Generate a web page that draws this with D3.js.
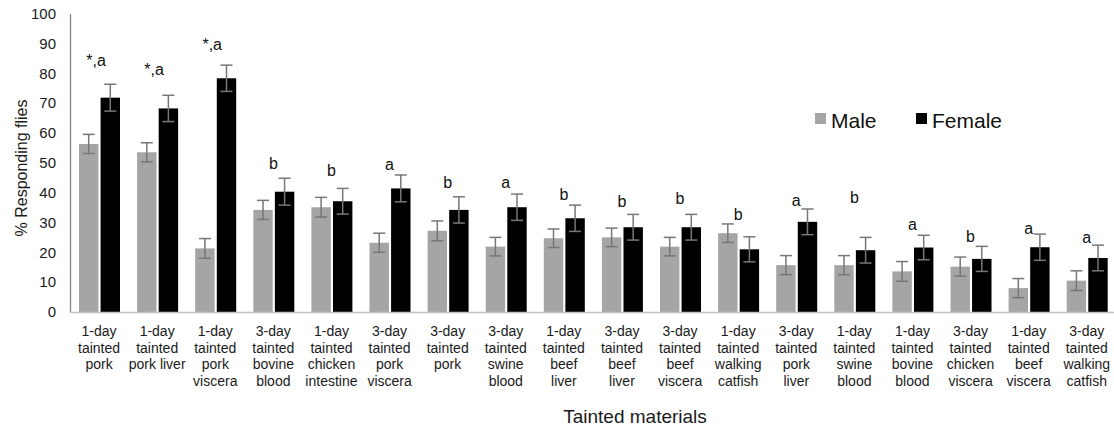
<!DOCTYPE html>
<html>
<head>
<meta charset="utf-8">
<script src="https://cdn.jsdelivr.net/npm/d3@7"></script>
<style>
  body { margin: 0; background: #fff; }
  svg { font-family: "Liberation Sans", Arial, sans-serif; }
</style>
</head>
<body>
<div class="chart"></div>
<script>
// tainted materials (one entry per group, split in lines)
const categories = [
  ["1-day", "tainted", "pork"],
  ["1-day", "tainted", "pork liver"],
  ["1-day", "tainted", "pork", "viscera"],
  ["3-day", "tainted", "bovine", "blood"],
  ["1-day", "tainted", "chicken", "intestine"],
  ["3-day", "tainted", "pork", "viscera"],
  ["3-day", "tainted", "pork"],
  ["3-day", "tainted", "swine", "blood"],
  ["1-day", "tainted", "beef", "liver"],
  ["3-day", "tainted", "beef", "liver"],
  ["3-day", "tainted", "beef", "viscera"],
  ["1-day", "tainted", "walking", "catfish"],
  ["3-day", "tainted", "pork", "liver"],
  ["1-day", "tainted", "swine", "blood"],
  ["1-day", "tainted", "bovine", "blood"],
  ["3-day", "tainted", "chicken", "viscera"],
  ["1-day", "tainted", "beef", "viscera"],
  ["3-day", "tainted", "walking", "catfish"]
];

const series = ["Male", "Female"];

const maleValues = [56.3, 53.5, 21.3, 34.2, 35.1, 23.2, 27.2, 21.9, 24.7, 25.0, 21.9, 26.4, 15.7, 15.7, 13.6, 15.2, 8.0, 10.5];
const femaleValues = [71.8, 68.2, 78.3, 40.3, 37.1, 41.4, 34.2, 35.1, 31.4, 28.4, 28.4, 21.0, 30.2, 20.7, 21.6, 17.8, 21.7, 18.1];

const maleErrors = [3.2, 3.2, 3.3, 3.2, 3.3, 3.2, 3.3, 3.1, 3.1, 3.1, 3.1, 3.1, 3.2, 3.2, 3.3, 3.2, 3.2, 3.3];
const femaleErrors = [4.5, 4.4, 4.4, 4.5, 4.3, 4.5, 4.4, 4.4, 4.4, 4.3, 4.3, 4.2, 4.3, 4.3, 4.1, 4.2, 4.4, 4.3];

// significance letters and the height (in %) of their baseline
const sigLabels = ["*,a", "*,a", "*,a", "b", "b", "a", "b", "a", "b", "b", "b", "b", "a", "b", "a", "b", "a", "a"];
const sigHeights = [82.4, 79.4, 87.8, 47.9, 45.6, 47.6, 41.5, 41.5, 37.5, 35.3, 36.2, 30.8, 35.5, 36.6, 27.5, 23.6, 26.1, 23.1];

const yTicks = [0, 10, 20, 30, 40, 50, 60, 70, 80, 90, 100];

const colors = { Male: "#a5a5a5", Female: "#000000" };

let width = 1114,
  height = 428,
  padLeft = 70,
  padTop = 13.5,
  baseY = 312,
  bandStep = 58.1;

let svg = d3
  .select(".chart")
  .append("svg")
  .attr("width", width)
  .attr("height", height);

let x0 = d3
  .scaleBand()
  .domain(d3.range(categories.length))
  .range([padLeft, padLeft + bandStep * categories.length]);

let x1 = d3
  .scaleBand()
  .domain(series)
  .range([9, 50])
  .paddingInner(0.1);

let yScale = d3.scaleLinear().domain([0, 100]).range([baseY, padTop]);

// y axis
let yAxis = d3
  .axisLeft(yScale)
  .tickValues(yTicks)
  .tickSizeInner(0)
  .tickSizeOuter(0)
  .tickPadding(14);

let gy = svg
  .append("g")
  .attr("transform", "translate(" + padLeft + ",0)")
  .call(yAxis);
gy.select(".domain").attr("stroke", "#858585").attr("stroke-width", 1.3);
gy.selectAll("text")
  .attr("font-size", 15)
  .attr("fill", "#1a1a1a")
  .attr("font-family", "Liberation Sans, Arial, sans-serif");

// bars
let rows = categories.map((c, i) => ({
  i: i,
  values: [
    { key: "Male", v: maleValues[i], e: maleErrors[i] },
    { key: "Female", v: femaleValues[i], e: femaleErrors[i] }
  ]
}));

let groups = svg
  .selectAll(".group")
  .data(rows)
  .enter()
  .append("g")
  .attr("class", "group")
  .attr("transform", (d) => "translate(" + x0(d.i) + ",0)");

groups
  .selectAll("rect")
  .data((d) => d.values)
  .enter()
  .append("rect")
  .attr("x", (d) => x1(d.key))
  .attr("y", (d) => yScale(d.v))
  .attr("width", x1.bandwidth())
  .attr("height", (d) => yScale(0) - yScale(d.v))
  .attr("fill", (d) => colors[d.key]);

// error bars
let err = groups
  .selectAll(".err")
  .data((d) => d.values)
  .enter()
  .append("g")
  .attr("class", "err")
  .attr("stroke", "#777")
  .attr("stroke-width", 1.5);

let cx = (d) => x1(d.key) + x1.bandwidth() / 2;
err
  .append("line")
  .attr("x1", cx)
  .attr("x2", cx)
  .attr("y1", (d) => yScale(d.v - d.e))
  .attr("y2", (d) => yScale(d.v + d.e));
err
  .append("line")
  .attr("x1", (d) => cx(d) - 6)
  .attr("x2", (d) => cx(d) + 6)
  .attr("y1", (d) => yScale(d.v + d.e))
  .attr("y2", (d) => yScale(d.v + d.e));
err
  .append("line")
  .attr("x1", (d) => cx(d) - 6)
  .attr("x2", (d) => cx(d) + 6)
  .attr("y1", (d) => yScale(d.v - d.e))
  .attr("y2", (d) => yScale(d.v - d.e));

// significance letters
groups
  .append("text")
  .attr("x", (d) => x0.bandwidth() / 2 - (sigLabels[d.i].length > 1 ? 3 : 0))
  .attr("y", (d) => yScale(sigHeights[d.i]))
  .attr("text-anchor", "middle")
  .attr("font-size", 16)
  .attr("fill", "#111")
  .text((d) => sigLabels[d.i]);

// x axis
let xAxis = d3.axisBottom(x0).tickSize(0).tickFormat("");
let gx = svg
  .append("g")
  .attr("transform", "translate(0," + baseY + ")")
  .call(xAxis);
gx.select(".domain").attr("stroke", "#c4c4c4").attr("stroke-width", 1.3);

gx.selectAll(".tick")
  .append("text")
  .attr("text-anchor", "middle")
  .attr("font-size", 14)
  .attr("fill", "#1a1a1a")
  .attr("font-family", "Liberation Sans, Arial, sans-serif")
  .selectAll("tspan")
  .data((i) => categories[i])
  .enter()
  .append("tspan")
  .attr("x", 0)
  .attr("y", (d, k) => 24 + k * 16.5)
  .text((d) => d);

// axis titles
svg
  .append("text")
  .attr("x", 635)
  .attr("y", 423)
  .attr("text-anchor", "middle")
  .attr("font-size", 19)
  .attr("fill", "#1a1a1a")
  .text("Tainted materials");

svg
  .append("text")
  .attr("transform", "translate(27,168) rotate(-90)")
  .attr("text-anchor", "middle")
  .attr("font-size", 16)
  .attr("fill", "#1a1a1a")
  .text("% Responding flies");

// legend
let legend = svg
  .selectAll(".legend")
  .data(series)
  .enter()
  .append("g")
  .attr("class", "legend")
  .attr("transform", (d, i) => "translate(" + (815 + i * 101) + ",113)");

legend
  .append("rect")
  .attr("width", 11)
  .attr("height", 11)
  .attr("fill", (d) => colors[d]);

legend
  .append("text")
  .attr("x", 16)
  .attr("y", 15)
  .attr("font-size", 21)
  .attr("fill", "#111")
  .text((d) => d);
</script>
</body>
</html>
